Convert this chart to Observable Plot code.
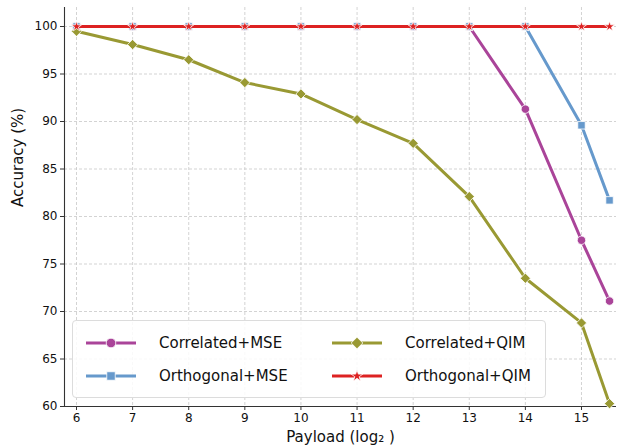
<!DOCTYPE html>
<html>
<head>
<meta charset="utf-8">
<script src="https://cdn.jsdelivr.net/npm/d3@7"></script>
<script src="https://cdn.jsdelivr.net/npm/@observablehq/plot@0.6"></script>
<style>
  html, body { margin: 0; padding: 0; background: #fff; }
  #wrap { position: relative; width: 617px; height: 448px; font-family: "DejaVu Sans", sans-serif; }
  #legend { position: absolute; left: 72px; top: 320px; width: 472px; height: 76px;
    border: 1px solid #dcdcdc; border-radius: 4px; background: rgba(255,255,255,0.85); }
  .entry { position: absolute; display: flex; align-items: center; font-size: 15px; color: #111; }
  .entry svg { margin-right: 23px; }
</style>
</head>
<body>
<div id="wrap"><div id="chart"></div><div id="legend"></div></div>
<script>
const payload = [6, 7, 8, 9, 10, 11, 12, 13, 14, 15, 15.5];
const xTicks = [6, 7, 8, 9, 10, 11, 12, 13, 14, 15];
const yTicks = [60, 65, 70, 75, 80, 85, 90, 95, 100];

const seriesNames = ["Correlated+MSE", "Orthogonal+MSE", "Correlated+QIM", "Orthogonal+QIM"];
const seriesColors = ["#AA4499", "#6699CC", "#999933", "#DD2222"];
const seriesSymbols = ["circle", "square", "diamond2", "star"];

const corrMSE = [100, 100, 100, 100, 100, 100, 100, 100, 91.3, 77.5, 71.1];
const orthMSE = [100, 100, 100, 100, 100, 100, 100, 100, 100, 89.6, 81.7];
const corrQIM = [99.5, 98.1, 96.5, 94.1, 92.9, 90.2, 87.7, 82.1, 73.5, 68.8, 60.3];
const orthQIM = [100, 100, 100, 100, 100, 100, 100, 100, 100, 100, 100];

const seriesValues = [corrMSE, orthMSE, corrQIM, orthQIM];
const xDomain = [5.786, 15.624];
const yDomain = [60, 102];
const markerR = [4.2, 4.2, 4.6, 3.2];

const marks = [
  Plot.gridX(xTicks, {stroke: "#c8c8c8", strokeOpacity: 1, strokeDasharray: "3,2", strokeWidth: 0.8}),
  Plot.gridY(yTicks, {stroke: "#c8c8c8", strokeOpacity: 1, strokeDasharray: "3,2", strokeWidth: 0.8}),
  Plot.axisX(xTicks, {tickSize: 4, tickPadding: 3, fontSize: 12, label: null, stroke: "#333"}),
  Plot.axisY(yTicks, {tickSize: 4, tickPadding: 3, fontSize: 12, label: null, stroke: "#333"}),
  Plot.ruleX([xDomain[0]], {stroke: "#333", strokeWidth: 1.1}),
  Plot.ruleY([yDomain[0]], {stroke: "#333", strokeWidth: 1.1}),
];
seriesValues.forEach((vals, i) => {
  const data = payload.map((p, j) => ({x: p, y: vals[j]}));
  marks.push(Plot.line(data, {x: "x", y: "y", stroke: seriesColors[i], strokeWidth: 3}));
  marks.push(Plot.dot(data, {x: "x", y: "y", symbol: seriesSymbols[i], r: markerR[i], fill: seriesColors[i], stroke: "white", strokeWidth: 0.8}));
});
marks.push(Plot.text(["Payload (log\u2082 )"], {frameAnchor: "bottom", dy: 35, fontSize: 15, fill: "#111"}));
marks.push(Plot.text(["Accuracy (%)"], {frameAnchor: "left", dx: -46, rotate: -90, fontSize: 15, fill: "#111"}));

const chart = Plot.plot({
  width: 617,
  height: 448,
  marginLeft: 64,
  marginRight: 1,
  marginTop: 7,
  marginBottom: 42,
  x: {domain: xDomain},
  y: {domain: yDomain},
  style: {fontFamily: "DejaVu Sans, sans-serif", background: "white", color: "#111"},
  marks
});
document.getElementById("chart").appendChild(chart);

// legend (column-major, 2 columns)
const legend = document.getElementById("legend");
const pos = [[13, 22], [13, 55], [259, 22], [259, 55]];
const symbolTypes = {circle: d3.symbolCircle, square: d3.symbolSquare, diamond2: d3.symbolDiamond2, star: d3.symbolStar};
seriesNames.forEach((name, i) => {
  const e = document.createElement("div");
  e.className = "entry";
  e.style.left = pos[i][0] + "px";
  e.style.top = (pos[i][1] - 10) + "px";
  e.style.height = "20px";
  const sym = d3.symbol(symbolTypes[seriesSymbols[i]], Math.PI * markerR[i] * markerR[i] * 1.3)();
  e.innerHTML = `<svg width="50" height="14" viewBox="0 0 50 14">
    <line x1="0" x2="50" y1="7" y2="7" stroke="${seriesColors[i]}" stroke-width="3"/>
    <path d="${sym}" transform="translate(25,7)" fill="${seriesColors[i]}" stroke="white" stroke-width="0.8"/>
  </svg><span>${name}</span>`;
  legend.appendChild(e);
});
</script>
</body>
</html>
